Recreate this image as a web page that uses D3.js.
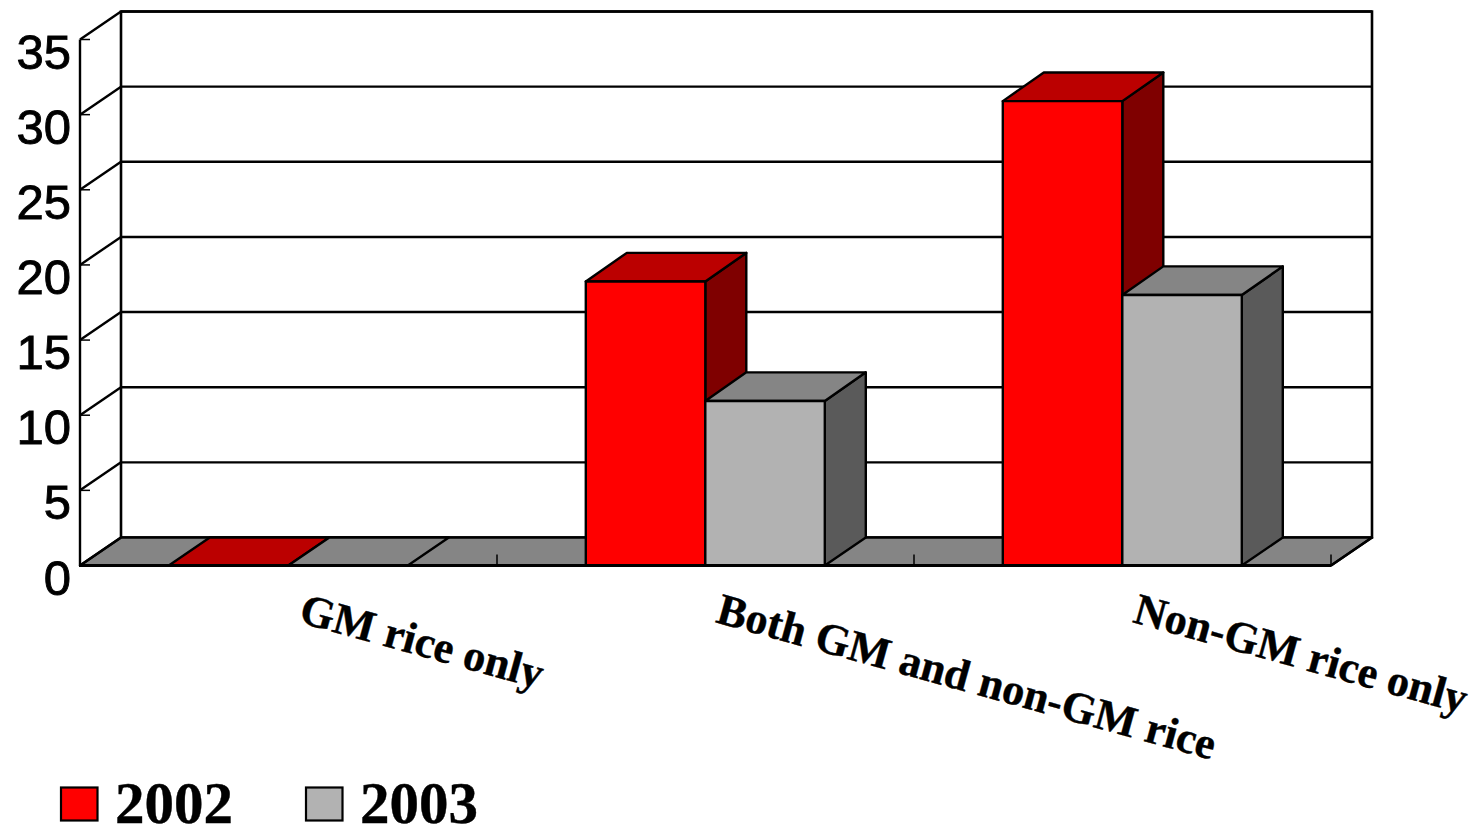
<!DOCTYPE html>
<html><head><meta charset="utf-8">
<script src="https://cdn.jsdelivr.net/npm/d3@7"></script>
<style>html,body{margin:0;padding:0;background:#fff;overflow:hidden}svg{display:block}</style>
</head><body><svg id="c" width="1478" height="825"></svg>
<script>
const categories = ["GM rice only", "Both GM and non-GM rice", "Non-GM rice only"];
const years = ["2002", "2003"];
const values2002 = [0, 18.9, 30.9];
const values2003 = [0, 10.95, 18.0];
const yTicks = [0, 5, 10, 15, 20, 25, 30, 35];

const svg = d3.select("#c");
const DX = 41, DY = -28, LW = 2.4;
const x0 = d3.scaleBand().domain(categories).range([80, 1331]);
const y = d3.scaleLinear().domain([0, 35]).range([565.5, 39.5]);
const barW = 119.5, barOff = 88.8;
const x1 = d3.scaleBand().domain(years).range([barOff, barOff + 2 * barW]);
const colors = {
  "2002": {front: "#ff0000", top: "#bb0000", side: "#7f0000"},
  "2003": {front: "#b2b2b2", top: "#858585", side: "#5a5a5a"}
};
const series = {"2002": values2002, "2003": values2003};
const poly = pts => pts.map(p => p.join(",")).join(" ");
const L = x0.range()[0], R = x0.range()[1], B = y(0), T = y(35);

// back wall and side wall
svg.append("polygon").attr("points", poly([[L+DX,T+DY],[R+DX,T+DY],[R+DX,B+DY],[L+DX,B+DY]]))
  .attr("fill", "#fff").attr("stroke", "#000").attr("stroke-width", 2.6);
// floor
svg.append("polygon").attr("points", poly([[L,B],[R,B],[R+DX,B+DY],[L+DX,B+DY]]))
  .attr("fill", "#858585").attr("stroke", "#000").attr("stroke-width", LW).attr("stroke-linejoin", "round");

// gridlines
const grid = svg.append("g").attr("stroke", "#000").attr("stroke-width", LW);
yTicks.forEach(t => {
  if (t > 0) {
    grid.append("line").attr("x1", L).attr("y1", y(t)).attr("x2", L + DX).attr("y2", y(t) + DY);
    grid.append("line").attr("x1", L + DX).attr("y1", y(t) + DY).attr("x2", R + DX).attr("y2", y(t) + DY);
  }
  grid.append("line").attr("x1", L).attr("y1", y(t)).attr("x2", L + 10).attr("y2", y(t)).attr("stroke-width", 1.5);
});
grid.append("line").attr("x1", L).attr("y1", T).attr("x2", L).attr("y2", B);
grid.append("line").attr("x1", L).attr("y1", B).attr("x2", L + DX).attr("y2", B + DY);
grid.append("line").attr("x1", R).attr("y1", B).attr("x2", R + DX).attr("y2", B + DY);

// x ticks
categories.forEach(c => {
  const xe = x0(c) + x0.bandwidth();
  grid.append("line").attr("x1", xe).attr("y1", B).attr("x2", xe).attr("y2", B - 11).attr("stroke-width", 1.5);
});

// bars
categories.forEach((c, i) => {
  years.forEach(yr => {
    const v = series[yr][i], xa = x0(c) + x1(yr), xb = xa + barW, yt = y(v), col = colors[yr];
    const dy = v > 0 ? DY - 0.6 : DY;
    const g = svg.append("g").attr("stroke", "#000").attr("stroke-width", LW).attr("stroke-linejoin", "round");
    if (v > 0) {
      g.append("polygon").attr("points", poly([[xb,yt],[xb+DX,yt+dy],[xb+DX,B+DY],[xb,B]])).attr("fill", col.side);
    }
    g.append("polygon").attr("points", poly([[xa,yt],[xb,yt],[xb+DX,yt+dy],[xa+DX,yt+dy]])).attr("fill", col.top);
    if (v > 0) {
      g.append("rect").attr("x", xa).attr("y", yt).attr("width", barW).attr("height", B - yt).attr("fill", col.front);
    }
  });
});
svg.append("line").attr("x1", L - 1).attr("y1", B).attr("x2", R).attr("y2", B).attr("stroke", "#000").attr("stroke-width", 3);

// y labels
svg.append("g").selectAll("text").data(yTicks).join("text")
  .attr("x", 71).attr("y", d => y(d) + 29)
  .attr("text-anchor", "end")
  .attr("font-family", "'Liberation Sans', sans-serif")
  .attr("font-size", 49)
  .attr("fill", "#000").attr("stroke", "#000").attr("stroke-width", 0.9)
  .text(d => d);

// category labels
const labelX = d => x0(d) + x0.bandwidth() * 0.5 + 9;
svg.append("g").selectAll("text").data(categories).join("text")
  .attr("transform", d => `translate(${labelX(d)},${622}) rotate(15.5)`)
  .attr("font-family", "'Liberation Serif', serif")
  .attr("font-weight", "bold")
  .attr("font-size", 44.2)
  .attr("fill", "#000").attr("stroke", "#000").attr("stroke-width", 0.4)
  .text(d => d);

// legend
const legendX = d3.scaleOrdinal().domain(years).range([61, 306]);
years.forEach(yr => {
  svg.append("rect").attr("x", legendX(yr)).attr("y", 787.5).attr("width", 36.5).attr("height", 33)
    .attr("fill", colors[yr].front).attr("stroke", "#000").attr("stroke-width", 2.2);
  svg.append("text").attr("x", legendX(yr) + 54).attr("y", 823)
    .attr("font-family", "'Liberation Serif', serif").attr("font-weight", "bold")
    .attr("font-size", 59).attr("fill", "#000").attr("stroke", "#000").attr("stroke-width", 0.4).text(yr);
});
</script></body></html>
